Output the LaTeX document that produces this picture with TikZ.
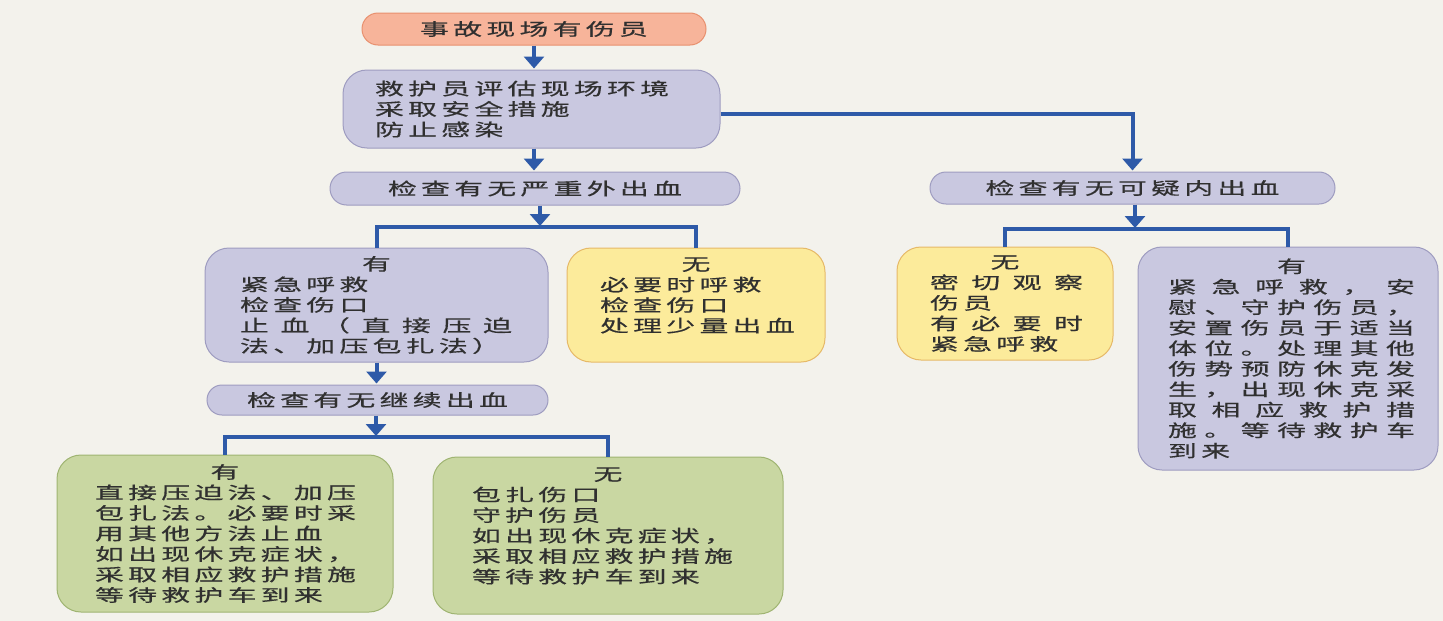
\documentclass[tikz,border=0pt]{standalone}
\usepackage{fontspec}
\newfontfamily\cjk[FakeStretch=1.7,LetterSpace=25,FakeBold=0.6]{Noto Sans CJK SC}
\usetikzlibrary{arrows.meta,shapes.misc}
\definecolor{paper}{HTML}{F3F2EC}
\definecolor{ink}{HTML}{303030}
\definecolor{flowblue}{HTML}{2E5AA8}
\definecolor{salmonfill}{HTML}{F7B49A}
\definecolor{salmondraw}{HTML}{E8906E}
\definecolor{lavfill}{HTML}{C9C8E0}
\definecolor{lavdraw}{HTML}{9E9CC0}
\definecolor{yelfill}{HTML}{FCEB9B}
\definecolor{yeldraw}{HTML}{E6B968}
\definecolor{grnfill}{HTML}{C9D7A2}
\definecolor{grndraw}{HTML}{9FB472}
\tikzset{
  pill/.style={rounded rectangle, draw=lavdraw, fill=lavfill, line width=1pt,
    inner sep=0pt, minimum height=32pt},
  card/.style={rectangle, rounded corners=24pt, line width=1pt, inner ysep=0pt,
    align=flush left, text width=#1},
  lav/.style={fill=lavfill, draw=lavdraw},
  yel/.style={fill=yelfill, draw=yeldraw},
  grn/.style={fill=grnfill, draw=grndraw},
  flow/.style={flowblue, line width=4pt, shorten >=1pt, -{Triangle[width=20pt,length=12pt]}},
  bus/.style={flowblue, line width=4pt},
}
\newcommand{\head}[1]{\makebox[\linewidth]{#1}}
\newcommand{\spread}[2]{\makebox[#1][s]{#2}}
\begin{document}
\begin{tikzpicture}[x=1pt, y=-1pt, font=\cjk\fontsize{17pt}{20.5pt}\selectfont, text=ink]
  \fill[paper] (0,0) rectangle (1443,621);
  \useasboundingbox (0,0) rectangle (1443,621);

  % main column
  \node[pill, fill=salmonfill, draw=salmondraw, minimum width=344pt] (scene) at (534,29) {事故现场有伤员};
  \node[card=313pt, lav, inner xsep=32pt, minimum height=78pt] (assess) at (531.5,109)
    {救护员评估现场环境\\采取安全措施\\防止感染};
  \node[pill, minimum width=410pt, minimum height=33pt] (outer) at (535,188.5) {检查有无严重外出血};
  \node[pill, minimum width=405pt] (inner) at (1132.5,188) {检查有无可疑内出血};

  % external bleeding
  \node[card=273pt, lav, inner xsep=35pt, minimum height=114pt] (outyes) at (376.5,305)
    {\head{有}\\紧急呼救\\检查伤口\\\spread{272pt}{止 血 （ 直 接 压 迫}\\法、加压包扎法）};
  \node[card=192pt, yel, inner xsep=33pt, minimum height=114pt] (outno) at (696,305)
    {\head{无}\\必要时呼救\\检查伤口\\处理少量出血\\\mbox{}};
  \node[pill, minimum width=341pt, minimum height=30pt] (cont) at (377.5,400) {检查有无继续出血};
  \node[card=260pt, grn, inner xsep=38pt, minimum height=157pt] (contyes) at (225,533.5)
    {\head{有}\\直接压迫法、加压\\包扎法。必要时采\\用其他方法止血\\如出现休克症状，\\采取相应救护措施\\等待救护车到来};
  \node[card=272pt, grn, inner xsep=39pt, minimum height=157pt] (contno) at (608,535.5)
    {\head{无}\\包扎伤口\\守护伤员\\如出现休克症状，\\采取相应救护措施\\等待救护车到来\\\mbox{}};

  % internal bleeding
  \node[card=150pt, yel, inner xsep=33pt, minimum height=113pt] (inno) at (1005,303.5)
    {\head{无}\\\spread{153pt}{密 切 观 察}\\伤员\\\spread{153pt}{有 必 要 时}\\紧急呼救};
  \node[card=240pt, lav, inner xsep=30pt, minimum height=223pt] (inyes) at (1288,358.5)
    {\makebox[247pt]{有}\\\spread{247pt}{紧 急 呼 救 ， 安}\\\spread{247pt}{慰 、 守 护 伤 员 ，}\\
     \spread{247pt}{安 置 伤 员 于 适 当}\\\spread{247pt}{体 位 。 处 理 其 他}\\
     \spread{247pt}{伤 势 预 防 休 克 发}\\\spread{247pt}{生 ， 出 现 休 克 采}\\
     \spread{247pt}{取 相 应 救 护 措}\\\spread{247pt}{施 。 等 待 救 护 车}\\到来};

  \coordinate (outfork) at (540,227);
  \coordinate (infork) at (1135,229);
  \coordinate (contfork) at (376,437);

  \draw[flow] (scene.south) -- (scene.south |- assess.north);
  \draw[flow] (scene.south |- assess.south) -- (scene.south |- outer.north);
  \draw[flow] ([yshift=-5pt]assess.east) -| (inner.north);
  \draw[flow] (outer.south -| outfork) -- (outfork);
  \draw[bus] (outyes.north) |- (outfork) -| (outno.north);
  \draw[flow] (inner.south -| infork) -- (infork);
  \draw[bus] (inno.north) |- (infork) -| (inyes.north);
  \draw[flow] (outyes.south) -- (outyes.south |- cont.north);
  \draw[flow] (cont.south -| contfork) -- (contfork);
  \draw[bus] (contyes.north) |- (contfork) -| (contno.north);
\end{tikzpicture}
\end{document}
